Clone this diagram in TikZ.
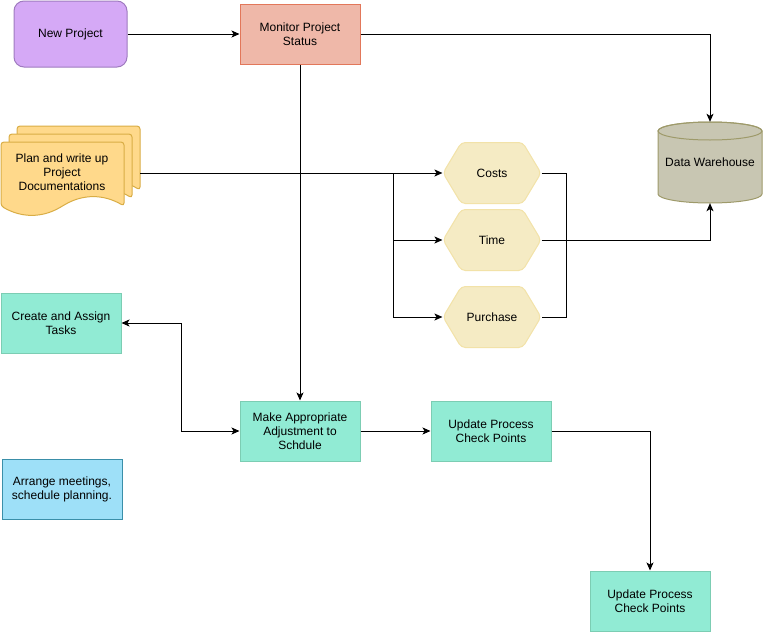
\documentclass[tikz,border=0pt]{standalone}
\usepackage{fontspec}
\setmainfont{Liberation Sans}
\usetikzlibrary{arrows.meta,shapes.geometric,shapes.symbols}

\definecolor{newfill}{HTML}{D5A9F6}
\definecolor{newline}{HTML}{9F7BBF}
\definecolor{monfill}{HTML}{EFB8A9}
\definecolor{monline}{HTML}{E2775A}
\definecolor{docfill}{HTML}{FFD98B}
\definecolor{docline}{HTML}{D9AD45}
\definecolor{hexfill}{HTML}{F5EBC4}
\definecolor{hexline}{HTML}{F2E2A8}
\definecolor{dwfill}{HTML}{C8C6B2}
\definecolor{dwline}{HTML}{9E9A6A}
\definecolor{taskfill}{HTML}{91EBD4}
\definecolor{taskline}{HTML}{7CCDB3}
\definecolor{meetfill}{HTML}{9EE0F8}
\definecolor{meetline}{HTML}{3A8FA9}

\begin{document}
\begin{tikzpicture}[
  x=1pt, y=-1pt,
  font=\fontsize{12}{14}\selectfont,
  box/.style={draw, line width=1pt, minimum width=120pt, minimum height=60pt, align=center},
  task/.style={box, fill=taskfill, draw=taskline},
  hexa/.style={signal, signal to=west and east, signal pointer angle=118, draw=hexline, fill=hexfill,
    line width=1pt, minimum width=98pt, minimum height=61pt, rounded corners=4pt},
  page/.style={draw=docline, fill=docfill, line width=1pt, rounded corners=3pt},
  drum/.style={draw=dwline, fill=dwfill, line width=1pt},
  link/.style={line width=1pt, -{Stealth[length=8pt, width=7pt, inset=2pt]}},
  both/.style={line width=1pt, {Stealth[length=8pt, width=7pt, inset=2pt]}-{Stealth[length=8pt, width=7pt, inset=2pt]}},
]
  \useasboundingbox (0,0) rectangle (763,632);

  % Top row
  \node[box, rounded corners=10pt, fill=newfill, draw=newline, minimum width=113pt, minimum height=66pt] (new) at (70.5,34) {New Project};
  \node[box, fill=monfill, draw=monline] (monitor) at (300,34) {Monitor Project\\Status};

  % Stacked documents, back to front
  \foreach \d in {16,8,0} {
    \draw[page] (1+\d,206-\d) -- (1+\d,142-\d) -- (124+\d,142-\d) -- (124+\d,206-\d)
      .. controls (103.5+\d,194-\d) and (83+\d,194-\d) .. (62.5+\d,206-\d)
      .. controls (42+\d,218-\d) and (21.5+\d,218-\d) .. (1+\d,206-\d) -- cycle;
  }
  \node[align=center] (plan) at (62,172) {Plan and write up\\Project\\Documentations};
  \coordinate (planout) at (140,173);
  \coordinate (split) at (393,173);

  % Hexagons
  \foreach \n/\t/\y in {costs/Costs/173, time/Time/240, purchase/Purchase/317} {
    \node[hexa] (\n) at (492,\y) {\t};
  }

  % Data warehouse
  \draw[drum] (658,131) -- (658,194) arc[start angle=180, end angle=360, x radius=52pt, y radius=9pt]
    -- (762,131) arc[start angle=0, end angle=180, x radius=52pt, y radius=9pt] -- cycle;
  \draw[drum, fill=none] (710,131) ellipse [x radius=52pt, y radius=9pt];
  \node[minimum width=104pt, minimum height=81pt, inner sep=0pt] (dw) at (710,162.5) {Data Warehouse};

  % Tasks
  \node[task] (create) at (61,323) {Create and Assign\\Tasks};
  \node[task] (adjust) at (300,431) {Make Appropriate\\Adjustment to\\Schdule};
  \node[task] (update1) at (491,431) {Update Process\\Check Points};
  \node[task] (update2) at (650,601) {Update Process\\Check Points};
  \node[box, fill=meetfill, draw=meetline] (meet) at (62,489) {Arrange meetings,\\schedule planning.};

  % Connectors
  \draw[link] (new) -- (monitor);
  \draw[link] (monitor.east) -| (dw.north);
  \draw[link] (planout) -- (costs.west);
  \draw[link] (split) |- (time.west);
  \draw[link] (split) |- (purchase.west);
  \draw[line width=1pt] (costs.east) -- ++(25,0) |- (purchase.east);
  \draw[link] (time.east) -| (dw.south);
  \draw[link] (monitor) -- (adjust);
  \draw[both] (create.east) -- ++(60,0) |- (adjust.west);
  \draw[link] (adjust) -- (update1);
  \draw[link] (update1.east) -| (update2.north);
\end{tikzpicture}
\end{document}
